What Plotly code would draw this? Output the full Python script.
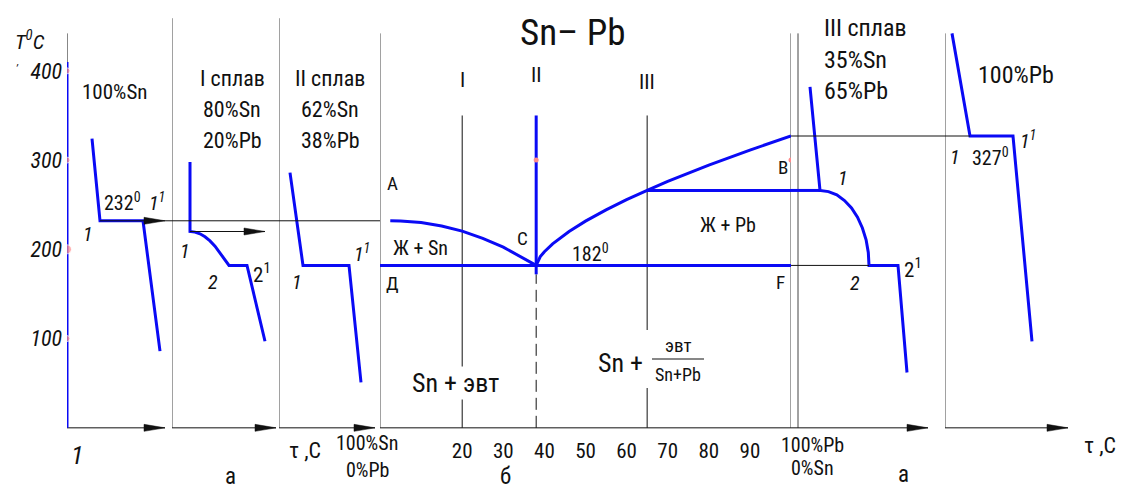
import plotly.graph_objects as go

W, H = 1136, 492
FONT = "Roboto Condensed, Roboto, DejaVu Sans, sans-serif"
BLUE = "#0a0af5"
INK = "#111111"
RULE = "#444444"
PINK = "#ff8c8c"

# ---------------- data ----------------
# temperatures, °C
sn_melt = 232
pb_melt = 327
eutectic_t = 182
temp_ticks = [100, 200, 300, 400]

# compositions, % Pb
eutectic_pb = 38
alloy_pb = [20, 38, 65]
alloy_names = ["I", "II", "III"]
comp_ticks = [20, 30, 40, 50, 60, 70, 80, 90]

# liquidus A–C (Sn side) and C–B (Pb side)
liq_sn_pb = [2.5, 5, 10, 15, 20, 25, 30, 35, 38]
liq_sn_t = [232, 231.8, 230, 226.2, 220.4, 212.2, 202.5, 190.2, 182]
liq_pb_pb = [38, 39, 40, 42, 46, 50, 55, 60, 65, 70, 80, 90, 100]
liq_pb_t = [182, 191.8, 197.3, 206.1, 220, 231.6, 244.2, 255.7, 266.1, 276.1, 294.4, 311.2, 327]

# cooling curves: time (arbitrary units) vs temperature
sn_time = [2.5, 3.3, 7.6, 9.3]
sn_temp = [324, 232, 232, 86]
alloy1_time = [1.8, 1.8, 2.3, 2.8, 3.3, 3.8, 4.3, 4.8, 5.3, 5.7, 7.5, 9.3]
alloy1_temp = [298, 220, 219.3, 217.4, 214.1, 209.5, 203.6, 196.3, 187.7, 182, 182, 97]
alloy2_time = [1.1, 2.4, 7.0, 8.2]
alloy2_temp = [286, 182, 182, 51]
alloy3_time = [1.2, 2.2, 3.05, 3.88, 4.65, 5.35, 5.95, 6.44, 6.81, 7.03, 7.1, 10.0, 10.9]
alloy3_temp = [382, 266, 264.7, 261, 254.7, 246.3, 236, 224, 210.7, 196.6, 182, 182, 62]
pb_time = [0.7, 2.5, 6.8, 8.7]
pb_temp = [442, 327, 327, 97]

# ---------------- layout of the panels ----------------
# axis id: (left px, right px, data range)
PANELS = {
    "x":  (67, 172, [0, 10.5]),     # 100 % Sn cooling curve
    "x2": (172, 279, [0, 10.7]),    # alloy I
    "x3": (279, 380, [0, 10.1]),    # alloy II
    "x4": (380, 791, [0, 100]),     # phase diagram, % Pb
    "x5": (791, 945, [-0.7, 14.7]), # alloy III
    "x6": (945, 1136, [0, 19.1]),   # 100 % Pb cooling curve
}
T_RANGE = [-71.9, 479.4]
TIME_AXIS_END = {"x": 9.8, "x2": 10.4, "x3": 9.6, "x5": 13.0, "x6": 12.3}
FRAME_TOP = 442
FRAME_TOP_MID = 459
GUIDE_TOP = 350
SOLIDUS_IDX = 10  # index of the eutectic corner on the alloy III curve

fig = go.Figure()


def seg(axis, xs, ys, color=RULE, width=1.0, dash=None):
    fig.add_trace(go.Scatter(
        x=xs, y=ys, xaxis=axis, yaxis="y", mode="lines",
        line=dict(color=color, width=width, dash=dash),
        hoverinfo="skip", showlegend=False))


def head(axis, x, t, direction=1):
    L, h = 21, 3.5
    d = direction
    fig.add_shape(type="path", xref=axis, yref="y",
                  xsizemode="pixel", ysizemode="pixel", xanchor=x, yanchor=t,
                  path=f"M0,0 L{-d*L},{h} L{-d*L},{-h} Z",
                  fillcolor=INK, line=dict(color=INK, width=0.5), layer="above")


# frames: vertical temperature axes and horizontal time axes
seg("x", [0, 0], [0, FRAME_TOP], INK)
seg("x2", [0, 0], [0, FRAME_TOP_MID], RULE)
seg("x3", [0, 0], [0, FRAME_TOP_MID], RULE)
seg("x4", [0, 0], [0, FRAME_TOP], RULE)
seg("x4", [100, 100], [0, FRAME_TOP], RULE)
seg("x5", [0, 0], [0, FRAME_TOP], RULE)
seg("x6", [0, 0], [0, FRAME_TOP], RULE)
for ax, end in TIME_AXIS_END.items():
    start = PANELS[ax][2][0]
    seg(ax, [start, end], [0, 0], INK)
    head(ax, end, 0, 1)
seg("x4", [0, 100], [0, 0], INK)

# alloy verticals on the phase diagram
seg("x4", [alloy_pb[0]] * 2, [0, GUIDE_TOP], INK)
seg("x4", [alloy_pb[2]] * 2, [0, GUIDE_TOP], INK)
seg("x4", [alloy_pb[1]] * 2, [0, eutectic_t - 10], INK, 1, dash="12px,6px")

# phase diagram (blue)
seg("x4", [alloy_pb[1]] * 2, [eutectic_t - 10, GUIDE_TOP], BLUE, 3)
seg("x4", [0, 100], [eutectic_t, eutectic_t], BLUE, 3)
seg("x4", liq_sn_pb, liq_sn_t, BLUE, 3)
seg("x4", liq_pb_pb, liq_pb_t, BLUE, 3)
seg("x4", [alloy_pb[2], 100], [alloy3_temp[1]] * 2, BLUE, 3)
seg("x5", [-0.7, alloy3_time[1]], [alloy3_temp[1]] * 2, BLUE, 3)

# cooling curves (blue)
seg("x", [0, 0], [0, 410], BLUE, 3)
seg("x", sn_time, sn_temp, BLUE, 3)
seg("x2", alloy1_time, alloy1_temp, BLUE, 3)
seg("x3", alloy2_time, alloy2_temp, BLUE, 3)
seg("x5", alloy3_time, alloy3_temp, BLUE, 3)
seg("x6", pb_time, pb_temp, BLUE, 3)

# projection arrows (black)
seg("x", [sn_time[1], PANELS["x"][2][1]], [sn_melt] * 2, INK)
seg("x2", PANELS["x2"][2], [sn_melt] * 2, INK)
seg("x3", PANELS["x3"][2], [sn_melt] * 2, INK)
head("x", TIME_AXIS_END["x"], sn_melt, 1)
head("x4", 0, sn_melt, 1)

seg("x2", [alloy1_time[1], alloy1_time[-1]], [alloy1_temp[1]] * 2, INK)
head("x2", alloy1_time[-1], alloy1_temp[1], 1)

seg("x5", [alloy3_time[SOLIDUS_IDX], -0.7], [eutectic_t] * 2, INK)
head("x4", 100, eutectic_t, -1)

seg("x6", [pb_time[1], 0], [pb_melt] * 2, INK)
seg("x5", [PANELS["x5"][2][1], -0.7], [pb_melt] * 2, INK)
head("x4", 100, pb_melt, -1)

# reference dots
fig.add_trace(go.Scatter(x=[0] * 4, y=temp_ticks, xaxis="x", yaxis="y", mode="markers",
                         marker=dict(color=PINK, size=[6, 9, 6, 6]), hoverinfo="skip",
                         showlegend=False))
fig.add_trace(go.Scatter(x=[eutectic_pb, 100], y=[300, 300], xaxis="x4", yaxis="y",
                         mode="markers", marker=dict(color=PINK, size=5),
                         hoverinfo="skip", showlegend=False))

# ---------------- text ----------------
ann = []


def txt(text, x, y, size=20, italic=False, **kw):
    d = dict(text=text, x=x / W, y=1 - y / H, xref="paper", yref="paper",
             xanchor="center", yanchor="middle", showarrow=False,
             font=dict(family=FONT, size=size, color=INK,
                       style="italic" if italic else "normal"))
    d.update(kw)
    ann.append(d)


def lines(rows, x, y0, step, size, **kw):
    for i, row in enumerate(rows):
        txt(row, x, y0 + i * step, size, **kw)


def tag(text, axis, x, t, dx, dy, size=20, italic=True, **kw):
    d = dict(text=text, x=x, y=t, xref=axis, yref="y", xshift=dx, yshift=dy,
             xanchor="center", yanchor="middle", showarrow=False,
             font=dict(family=FONT, size=size, color=INK,
                       style="italic" if italic else "normal"))
    d.update(kw)
    ann.append(d)


txt("T<sup>0</sup>C", 30, 40, 21, True)
txt(",", 17, 61, 11, True)
txt("100%Sn", 114, 92, 21)
lines(["I сплав", "80%Sn", "20%Pb"], 232, 78, 31, 22)
lines(["II сплав", "62%Sn", "38%Pb"], 330, 78, 31, 22)
txt("Sn– Pb", 573, 32, 37)
lines(["III сплав", "35%Sn", "65%Pb"], 822, 28, 31.5, 24, xanchor="left")
txt("100%Pb", 1016, 75, 24)
txt("Ж + Sn", 420, 248, 20)
txt("182<sup>0</sup>", 590, 253, 20)
txt("Ж + Pb", 728, 225, 20)
txt("Sn + эвт", 455, 383, 26, bgcolor="white")
txt("Sn +", 620, 363, 26)
txt("эвт", 678, 345, 19)
txt("Sn+Pb", 678, 374, 18)
txt("1", 77, 455, 26, True)
txt("а", 230, 476, 23)
txt("τ ,С", 305, 450, 22)
txt("100%Sn", 367, 443, 20)
txt("0%Pb", 367, 470, 20)
txt("б", 505, 476, 23)
txt("100%Pb", 812, 445, 20)
txt("0%Sn", 812, 468, 20)
txt("а", 903, 474, 23)
txt("τ ,С", 1100, 445, 22)

for name, pb, ypx in zip(alloy_names, alloy_pb, [80, 75, 82]):
    ann.append(dict(text=name, x=pb, y=1 - ypx / H, xref="x4", yref="paper",
                    xanchor="center", yanchor="middle", showarrow=False,
                    font=dict(family=FONT, size=21, color=INK)))

tag("A", "x4", 0, sn_melt, 12, 37, 19, False)
tag("C", "x4", eutectic_pb, eutectic_t, -14, 27, 19, False)
tag("Д", "x4", 0, eutectic_t, 12, -18, 19, False)
tag("B", "x4", 100, pb_melt, -8, -31, 19, False)
tag("F", "x4", 100, eutectic_t, -11, -17, 19, False)

tag("1", "x", sn_time[1], sn_melt, -12, -13)
tag("232<sup>0</sup>", "x", sn_time[1], sn_melt, 22, 19, 20, False)
tag("1<sup>1</sup>", "x", sn_time[2], sn_melt, 14, 19)
tag("1", "x2", alloy1_time[1], alloy1_temp[1], -5, -19)
tag("2", "x2", alloy1_time[9], eutectic_t, -16, -17)
tag("2<sup>1</sup>", "x2", alloy1_time[10], eutectic_t, 15, -8, 21, False)
tag("1", "x3", alloy2_time[1], eutectic_t, -6, -17)
tag("1<sup>1</sup>", "x3", alloy2_time[2], eutectic_t, 13, 12)
tag("1", "x5", alloy3_time[1], alloy3_temp[1], 23, 12)
tag("2", "x5", alloy3_time[SOLIDUS_IDX], eutectic_t, -14, -18)
tag("2<sup>1</sup>", "x5", alloy3_time[SOLIDUS_IDX + 1], eutectic_t, 15, -3, 21, False)
tag("1", "x6", pb_time[1], pb_melt, -15, -21)
tag("327<sup>0</sup>", "x6", pb_time[1], pb_melt, 20, -21, 20, False)
tag("1<sup>1</sup>", "x6", pb_time[2], pb_melt, 15, -4)

shapes_extra = [
    # fraction bar
    dict(type="line", xref="paper", yref="paper", x0=652 / W, x1=704 / W,
         y0=1 - 359 / H, y1=1 - 359 / H, line=dict(color=INK, width=1.2), layer="above"),
    # clear the guide line behind the fraction
    dict(type="rect", xref="paper", yref="paper", x0=643 / W, x1=651 / W,
         y0=1 - 388 / H, y1=1 - 330 / H, fillcolor="white", line=dict(width=0),
         layer="above"),
]
for s in shapes_extra:
    fig.add_shape(**s)

# ---------------- axes ----------------
layout_axes = {}
for ax, (l, r, rng) in PANELS.items():
    key = "xaxis" if ax == "x" else "xaxis" + ax[1:]
    layout_axes[key] = dict(domain=[l / W, r / W], range=rng, visible=False,
                            anchor="y", fixedrange=True)

layout_axes["xaxis4"].update(
    visible=True, showgrid=False, zeroline=False, showline=False, ticks="",
    tickmode="array", tickvals=comp_ticks, anchor="free",
    position=(0 - T_RANGE[0]) / (T_RANGE[1] - T_RANGE[0]),
    ticklabelstandoff=8, automargin=False,
    tickfont=dict(family=FONT, size=21, color=INK))

fig.update_layout(
    template="none",
    width=W, height=H,
    margin=dict(l=0, r=0, t=0, b=0, pad=0),
    paper_bgcolor="white", plot_bgcolor="white",
    showlegend=False,
    yaxis=dict(domain=[0, 1], range=T_RANGE, anchor="free", position=67 / W,
               showgrid=False, zeroline=False, showline=False, ticks="",
               tickmode="array", tickvals=temp_ticks, automargin=False,
               ticklabelstandoff=5, fixedrange=True,
               tickfont=dict(family=FONT, size=22, color=INK, style="italic")),
    annotations=ann,
    **layout_axes,
)

fig.write_html("out.html")
